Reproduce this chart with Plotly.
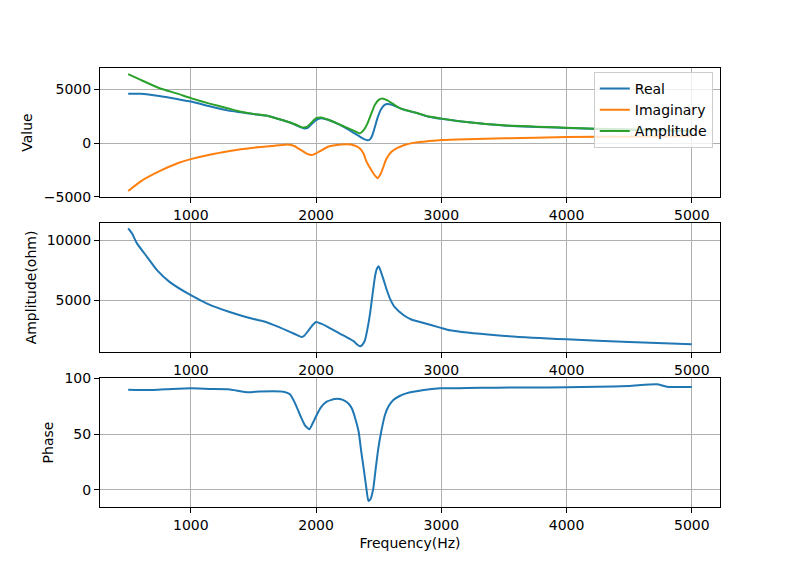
import plotly.graph_objects as go

# ---- Top panel: Real / Imaginary / Amplitude ----
freq_real = [500, 600, 750, 900, 1000, 1150, 1300, 1400, 1500, 1600, 1700, 1800, 1850, 1900,
             1930, 1960, 2000, 2040, 2100, 2200, 2300, 2350, 2380, 2410, 2430, 2445, 2460,
             2475, 2490, 2520, 2550, 2570, 2600, 2650, 2700, 2800, 2900, 3000, 3200, 3500, 4000,
             4500, 5000]
real_vals = [4570, 4560, 4350, 4050, 3840, 3400, 3000, 2840, 2680, 2540, 2220, 1860, 1600, 1360,
             1380, 1700, 2120, 2290, 2130, 1630, 950, 590, 380, 260, 330, 600, 1100,
             1700, 2300, 3150, 3550, 3610, 3560, 3330, 3090, 2790, 2440, 2250, 1940, 1630, 1400,
             1220, 1080]

freq_imag = [500, 600, 750, 900, 1000, 1150, 1300, 1400, 1500, 1600, 1700, 1770, 1800, 1830, 1860,
             1900, 1930, 1965, 2000, 2030, 2100, 2200, 2250, 2300, 2350, 2380, 2400, 2430, 2460,
             2490, 2520, 2560, 2600, 2650, 2700, 2800, 2900, 3000, 3200, 3500, 4000, 4500, 5000]
imag_vals = [-4445, -3550, -2610, -1850, -1490, -1080, -760, -580, -430, -330, -210, -140, -180, -300,
             -520, -800, -1000, -1110, -960, -760, -320, -140, -120, -210, -500, -1000, -1650,
             -2300, -2850, -3260, -2750, -1500, -830, -450, -200, 60, 180, 280, 360, 440, 550,
             590, 620]

freq_ampl = [500, 600, 750, 900, 1000, 1150, 1300, 1400, 1500, 1600, 1700, 1800, 1850, 1890,
             1930, 1960, 2000, 2040, 2100, 2200, 2300, 2350, 2380, 2410, 2440, 2470, 2500,
             2530, 2570, 2600, 2650, 2700, 2800, 2900, 3000, 3200, 3500, 4000, 4500, 5000]
ampl_vals = [6390, 5850, 5080, 4550, 4160, 3650, 3200, 2900, 2700, 2550, 2230, 1880, 1650, 1450,
             1520, 1850, 2300, 2370, 2150, 1650, 1150, 900, 1200, 1800, 2700, 3550, 4000,
             4130, 3950, 3730, 3350, 3100, 2800, 2450, 2260, 1950, 1640, 1420, 1250, 1130]

# ---- Middle panel: Amplitude(ohm) ----
freq_ohm = [500, 530, 570, 650, 730, 830, 1000, 1130, 1310, 1500, 1580, 1700, 1800, 1850, 1885,
            1910, 1940, 1970, 2000, 2040, 2085, 2190, 2250, 2300, 2330, 2351, 2370, 2390, 2410,
            2431, 2450, 2470, 2485, 2500, 2520, 2540, 2560, 2590, 2630, 2700, 2760, 2830,
            2990, 3070, 3440, 4000, 4500, 5000]
ohm_vals = [10975, 10560, 9725, 8610, 7500, 6525, 5415, 4725, 4025, 3440, 3250, 2780, 2330, 2100, 1945,
            2100, 2500, 2900, 3190, 3050, 2833, 2225, 1900, 1600, 1300, 1167, 1300, 1667, 2600,
            3890, 5400, 6945, 7600, 7833, 7300, 6667, 6000, 5140, 4400, 3750, 3400, 3190,
            2725, 2500, 2083, 1750, 1525, 1333]

# ---- Bottom panel: Phase ----
freq_phase = [500, 700, 850, 1000, 1150, 1300, 1460, 1550, 1740, 1792, 1830, 1872, 1910, 1946,
              1975, 2005, 2040, 2085, 2150, 2200, 2230, 2260, 2285, 2310, 2340, 2360, 2380, 2400,
              2418, 2435, 2457, 2475, 2497, 2520, 2550, 2580, 2617, 2660, 2720, 2860, 2990,
              3200, 3440, 3700, 4000, 4250, 4500, 4720, 4800, 5000]
phase_vals = [89.6, 89.3, 90.2, 90.8, 90.3, 90.0, 87.2, 88.0, 87.8, 85.5, 78, 67, 58, 54.2,
              60, 67, 74, 78.9, 81.3, 81, 79.5, 77, 73, 65, 52, 35, 19.4, 3,
              -9.8, -8, 1.5, 18, 37.2, 52, 67, 75, 80.4, 83.5, 86.3, 89.3, 90.8,
              91.0, 91.4, 91.5, 91.7, 92.2, 92.9, 94.4, 92.3, 92.0]

x_ticks = [1000, 2000, 3000, 4000, 5000]
C_BLUE, C_ORANGE, C_GREEN = "#1f77b4", "#ff7f0e", "#2ca02c"
LINE_KW = dict(width=2, shape="spline", smoothing=0.5)
FS = 14

fig = go.Figure()
fig.add_trace(go.Scatter(x=freq_real, y=real_vals, name="Real", mode="lines",
                         line=dict(color=C_BLUE, **LINE_KW), xaxis="x", yaxis="y"))
fig.add_trace(go.Scatter(x=freq_imag, y=imag_vals, name="Imaginary", mode="lines",
                         line=dict(color=C_ORANGE, **LINE_KW), xaxis="x", yaxis="y"))
fig.add_trace(go.Scatter(x=freq_ampl, y=ampl_vals, name="Amplitude", mode="lines",
                         line=dict(color=C_GREEN, **LINE_KW), xaxis="x", yaxis="y"))
fig.add_trace(go.Scatter(x=freq_ohm, y=ohm_vals, mode="lines", showlegend=False,
                         line=dict(color=C_BLUE, **LINE_KW), xaxis="x2", yaxis="y2"))
fig.add_trace(go.Scatter(x=freq_phase, y=phase_vals, mode="lines", showlegend=False,
                         line=dict(color=C_BLUE, **LINE_KW), xaxis="x3", yaxis="y3"))

axis_style = dict(showline=True, mirror=True, linecolor="black", linewidth=1,
                  ticks="outside", ticklen=5, tickcolor="black", tickwidth=1,
                  showgrid=True, gridcolor="#b0b0b0", gridwidth=1, zeroline=False,
                  automargin=False,
                  tickformat="d", tickfont=dict(size=FS, color="black"))
title_font = dict(size=FS, color="black")

dom_x = [0.125, 0.9]
fig.update_layout(
    width=800, height=570,
    margin=dict(l=0, r=0, t=0, b=0),
    paper_bgcolor="white", plot_bgcolor="white",
    font=dict(family="DejaVu Sans", size=FS, color="black"),
    xaxis=dict(domain=dom_x, anchor="y", range=[275, 5225], tickvals=x_ticks, **axis_style),
    yaxis=dict(domain=[0.6544, 0.8807], anchor="x", range=[-5000, 6950],
               tickvals=[-5000, 0, 5000],
               title=dict(text="Value", standoff=7, font=title_font), **axis_style),
    xaxis2=dict(domain=dom_x, anchor="y2", range=[275, 5225], tickvals=x_ticks, **axis_style),
    yaxis2=dict(domain=[0.3825, 0.6088], anchor="x2", range=[700, 11420],
                tickvals=[5000, 10000],
                title=dict(text="Amplitude(ohm)", standoff=6, font=title_font), **axis_style),
    xaxis3=dict(domain=dom_x, anchor="y3", range=[275, 5225], tickvals=x_ticks,
                title=dict(text="Frequency(Hz)", standoff=6, font=title_font), **axis_style),
    yaxis3=dict(domain=[0.1105, 0.3368], anchor="x3", range=[-15.2, 100],
                tickvals=[0, 50, 100],
                title=dict(text="Phase", standoff=7, font=title_font), **axis_style),
    legend=dict(x=0.891, y=0.8737, xanchor="right", yanchor="top",
                bgcolor="rgba(255,255,255,0.8)", bordercolor="#cccccc", borderwidth=1,
                font=dict(size=FS), tracegroupgap=0),
)

fig.write_html("out.html", config={"displayModeBar": False},
               post_script="document.body.style.margin='0';document.body.style.overflow='hidden';")
